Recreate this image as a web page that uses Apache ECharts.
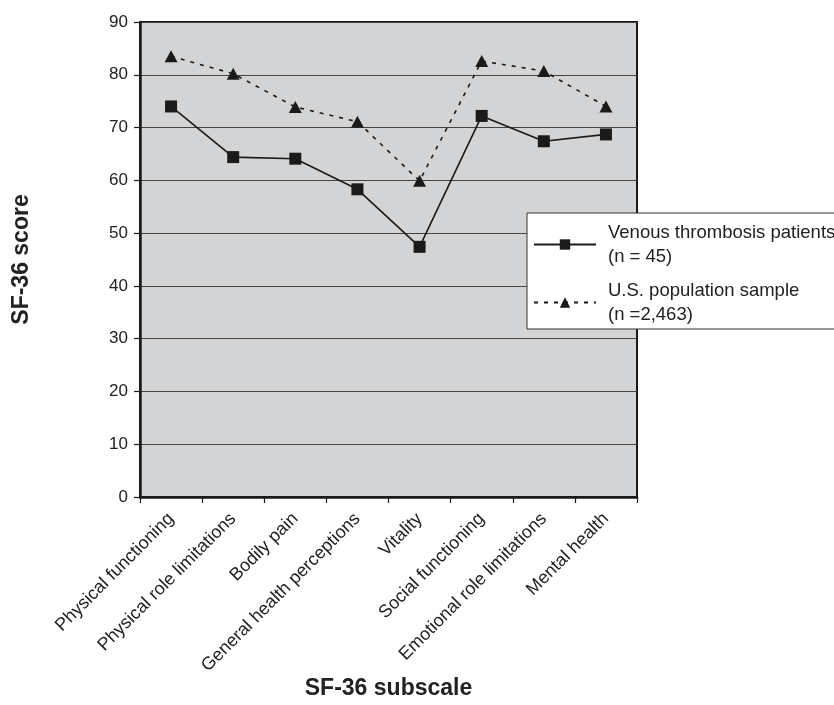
<!DOCTYPE html>
<html>
<head>
<meta charset="utf-8">
<script src="https://cdn.jsdelivr.net/npm/echarts@6/dist/echarts.min.js"></script>
<style>
html,body{margin:0;padding:0;background:#fff;}
#chart{width:834px;height:705px;}
</style>
</head>
<body>
<div id="chart"></div>
<script>
const categories = ['Physical functioning', 'Physical role limitations', 'Bodily pain', 'General health perceptions', 'Vitality', 'Social functioning', 'Emotional role limitations', 'Mental health'];
const patients = [74.0, 64.4, 64.1, 58.3, 47.4, 72.2, 67.4, 68.7];
const population = [83.5, 80.2, 73.9, 71.1, 59.9, 82.6, 80.7, 74.0];
const seriesNames = ['Venous thrombosis patients\n(n = 45)', 'U.S. population sample\n(n =2,463)'];
const yTicks = {min: 0, max: 90, interval: 10};

const FONT = '"Liberation Sans", Arial, Helvetica, sans-serif';
const chart = echarts.init(document.getElementById('chart'), null, {renderer: 'canvas'});
chart.setOption({
  animation: false,
  backgroundColor: '#ffffff',
  textStyle: {fontFamily: FONT, color: '#222'},
  grid: {
    left: 140, right: 197, top: 22, bottom: 204,
    show: true, backgroundColor: '#d3d4d6', borderColor: '#1a1a1a', borderWidth: 2
  },
  legend: {
    orient: 'vertical',
    left: 527, top: 213,
    backgroundColor: '#ffffff',
    borderColor: '#333', borderWidth: 1, borderRadius: 0,
    padding: [10, 8, 5, 6],
    itemWidth: 62, itemHeight: 13,
    itemGap: 15,
    textStyle: {fontFamily: FONT, fontSize: 18.5, color: '#222', lineHeight: 24,
      verticalAlign: 'top', padding: [-12, 0, 0, 7]},
    data: seriesNames
  },
  xAxis: {
    type: 'category',
    data: categories,
    boundaryGap: true,
    axisLine: {lineStyle: {color: '#1a1a1a', width: 2.5}},
    axisTick: {show: true, alignWithLabel: false, length: 6, lineStyle: {color: '#1a1a1a', width: 1.2}},
    axisLabel: {rotate: 45, interval: 0, fontSize: 18, color: '#222', margin: 19, fontFamily: FONT},
    splitLine: {show: false},
    name: 'SF-36 subscale',
    nameLocation: 'middle',
    nameGap: 180,
    nameMoveOverlap: false,
    nameTextStyle: {fontSize: 23, fontWeight: 'bold', color: '#222', fontFamily: FONT}
  },
  yAxis: {
    type: 'value',
    min: yTicks.min, max: yTicks.max, interval: yTicks.interval,
    axisLine: {show: true, lineStyle: {color: '#1a1a1a', width: 2.5}},
    axisTick: {show: true, length: 6, lineStyle: {color: '#1a1a1a', width: 1.2}},
    axisLabel: {fontSize: 17, color: '#222', margin: 12, fontFamily: FONT},
    splitLine: {show: true, lineStyle: {color: '#444', width: 1}},
    name: 'SF-36 score',
    nameLocation: 'middle',
    nameGap: 107,
    nameRotate: 90,
    nameMoveOverlap: false,
    nameTextStyle: {fontSize: 23, fontWeight: 'bold', color: '#222', fontFamily: FONT}
  },
  series: [
    {
      name: seriesNames[0], type: 'line', data: patients,
      symbol: 'rect', symbolSize: 12,
      lineStyle: {color: '#1a1a1a', width: 1.6, type: 'solid'},
      itemStyle: {color: '#1a1a1a'}
    },
    {
      name: seriesNames[1], type: 'line', data: population,
      symbol: 'triangle', symbolSize: [13, 12],
      lineStyle: {color: '#1a1a1a', width: 1.6, type: [4, 6]},
      itemStyle: {color: '#1a1a1a'}
    }
  ]
});
</script>
</body>
</html>
